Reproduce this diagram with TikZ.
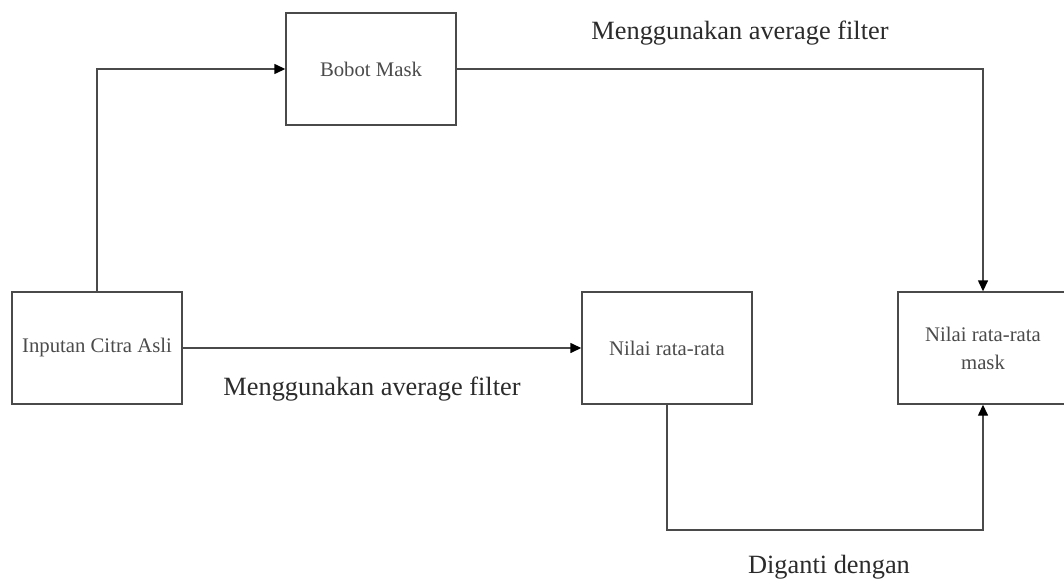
\documentclass[tikz,border=0pt]{standalone}
\usepackage{fontspec}
\setmainfont{Liberation Serif}
\usetikzlibrary{arrows.meta}
\definecolor{cline}{HTML}{4A4A4A}
\definecolor{ctext}{HTML}{2B2B2B}
\tikzset{
  every picture/.style={line width=0.8pt},
  box/.style={draw=cline, fill=white, minimum width=3.4cm, minimum height=2.24cm, align=center, inner sep=2pt, font=\fontsize{11.8}{16}\selectfont, text=ctext!85},
  arrow/.style={-{Triangle[length=2.2mm, width=2mm, color=black]}, draw=cline},
  edgetext/.style={font=\fontsize{15}{18}\selectfont, text=ctext, anchor=base},
}

\begin{document}
\begin{tikzpicture}
  \useasboundingbox (0,0) rectangle (21.28,11.62);
  \node[box] (bobot) at (7.42,10.24) {Bobot Mask};
  \node[box] (citra) at (1.94,4.66) {Inputan Citra Asli};
  \node[box] (rata) at (13.34,4.66) {Nilai rata-rata};
  \node[box] (ratamask) at (19.66,4.66) {Nilai rata-rata\\mask};
  \coordinate (bend) at (13.34,1.02);
  \draw[arrow] (citra.north) |- (bobot.west);
  \draw[arrow] (bobot.east) -| (ratamask.north);
  \draw[arrow] (citra.east) -- (rata.west);
  \draw[arrow] (rata.south) -- (bend) -| (ratamask.south);
  \node[edgetext] (ltop) at (14.8,10.82) {Menggunakan average filter};
  \node[edgetext] (lmid) at (7.44,3.72) {Menggunakan average filter};
  \node[edgetext] (lbot) at (16.58,0.16) {Diganti dengan};
\end{tikzpicture}
\end{document}
